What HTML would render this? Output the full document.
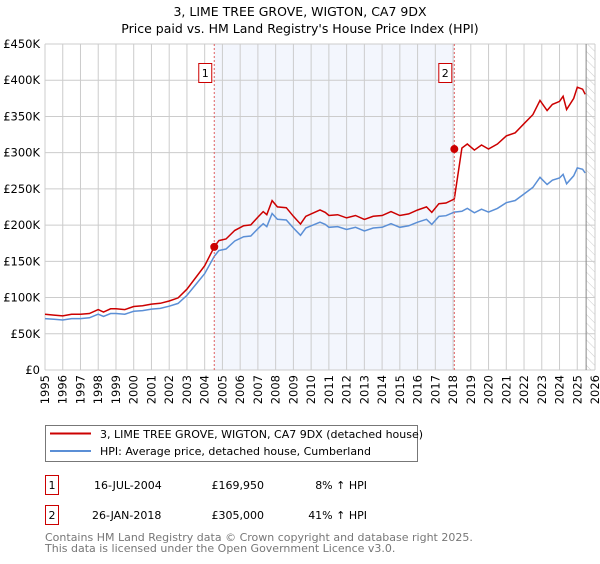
<!DOCTYPE html>
<html><head><meta charset="utf-8"><style>
body{margin:0;background:#fff;font-family:"DejaVu Sans","Liberation Sans",sans-serif;}
svg text{font-family:"DejaVu Sans","Liberation Sans",sans-serif;}
</style></head><body>
<svg id="chart" width="600" height="560" xmlns="http://www.w3.org/2000/svg">
<defs><pattern id="hatch" width="6" height="6" patternUnits="userSpaceOnUse" patternTransform="rotate(-45)"><line x1="0" y1="0" x2="0" y2="6" stroke="#ccc" stroke-width="1"/></pattern></defs>
<text x="300" y="16" text-anchor="middle" font-size="12.5">3, LIME TREE GROVE, WIGTON, CA7 9DX</text>
<text x="300" y="33" text-anchor="middle" font-size="12.5">Price paid vs. HM Land Registry's House Price Index (HPI)</text>
<g id="plot"></g>
<g>
<rect x="45.5" y="425.5" width="372" height="36" fill="#fff" stroke="#777"/>
<line x1="50" y1="433.5" x2="91" y2="433.5" stroke="#cc0000" stroke-width="2"/>
<text x="100" y="438" font-size="11">3, LIME TREE GROVE, WIGTON, CA7 9DX (detached house)</text>
<line x1="50" y1="451" x2="91" y2="451" stroke="#5b8fd6" stroke-width="2"/>
<text x="100" y="455" font-size="11">HPI: Average price, detached house, Cumberland</text>
</g>
<g font-size="11">
<rect x="45.5" y="475.5" width="13" height="19" fill="#fff" stroke="#cc0000"/>
<text x="52" y="489" text-anchor="middle">1</text>
<text x="94" y="489">16-JUL-2004</text>
<text x="264" y="489" text-anchor="end">£169,950</text>
<text x="367" y="489" text-anchor="end">8% ↑ HPI</text>
<rect x="45.5" y="505.5" width="13" height="19" fill="#fff" stroke="#cc0000"/>
<text x="52" y="519" text-anchor="middle">2</text>
<text x="92" y="519">26-JAN-2018</text>
<text x="264" y="519" text-anchor="end">£305,000</text>
<text x="367" y="519" text-anchor="end">41% ↑ HPI</text>
</g>
<text x="45" y="541" font-size="11" fill="#777">Contains HM Land Registry data © Crown copyright and database right 2025.</text>
<text x="45" y="552" font-size="11" fill="#777">This data is licensed under the Open Government Licence v3.0.</text>
</svg>
<script>
const hpiYears=[1995.0,1995.5,1996.0,1996.5,1997.0,1997.5,1998.0,1998.3,1998.7,1999.0,1999.5,2000.0,2000.5,2001.0,2001.5,2002.0,2002.5,2003.0,2003.5,2004.0,2004.54,2004.8,2005.2,2005.7,2006.2,2006.6,2007.0,2007.3,2007.5,2007.8,2008.1,2008.6,2009.0,2009.4,2009.7,2010.0,2010.5,2010.8,2011.0,2011.5,2012.0,2012.5,2013.0,2013.5,2014.0,2014.5,2015.0,2015.5,2016.0,2016.5,2016.8,2017.2,2017.6,2018.07,2018.5,2018.8,2019.2,2019.6,2020.0,2020.5,2021.0,2021.5,2022.0,2022.5,2022.9,2023.3,2023.6,2024.0,2024.2,2024.4,2024.8,2025.0,2025.3,2025.45];
const hpiValues=[71,70,69,71,71,72,77,74,78,78,77,81,82,84,85,88,92,103,118,133,157,165,167,178,184,185,195,202,198,216,208,207,196,186,196,199,204,201,197,198,194,197,192,196,197,202,197,199,204,208,201,212,213,218,219,223,217,222,218,223,231,234,243,252,266,256,262,265,270,257,268,279,277,272];
const saleYears=[2004.54,2018.07];
const salePrices=[169950,305000];
const saleLabels=["1","2"];
const yTicks=[0,50000,100000,150000,200000,250000,300000,350000,400000,450000];
const yTickLabels=["£0","£50K","£100K","£150K","£200K","£250K","£300K","£350K","£400K","£450K"];
const xTicks=[1995,1996,1997,1998,1999,2000,2001,2002,2003,2004,2005,2006,2007,2008,2009,2010,2011,2012,2013,2014,2015,2016,2017,2018,2019,2020,2021,2022,2023,2024,2025,2026];

const X0=45,X1=595,Y0=370,Y1=44,xMin=1995,xMax=2026,yMax=450000;
const xs=v=>X0+(v-xMin)/(xMax-xMin)*(X1-X0);
const ys=v=>Y0-v/yMax*(Y0-Y1);
const NS="http://www.w3.org/2000/svg";
const g=document.getElementById('plot');
function mk(t,a,p){const e=document.createElementNS(NS,t);for(const k in a)e.setAttribute(k,a[k]);(p||g).appendChild(e);return e;}
function hpiAt(t){for(let i=1;i<hpiYears.length;i++){if(t<=hpiYears[i]){const f=(t-hpiYears[i-1])/(hpiYears[i]-hpiYears[i-1]);return (hpiValues[i-1]+f*(hpiValues[i]-hpiValues[i-1]))*1000;}}return hpiValues[hpiValues.length-1]*1000;}

let shade=mk('rect',{x:xs(saleYears[0]),y:Y1,width:xs(saleYears[1])-xs(saleYears[0]),height:Y0-Y1,fill:'#f3f6fd'});


let hatch=mk('rect',{x:xs(2025.5),y:Y1,width:X1-xs(2025.5),height:Y0-Y1,fill:'url(#hatch)'});


xTicks.forEach(t=>{const l=mk('line',{x1:xs(t),x2:xs(t),y1:Y1,y2:Y0,stroke:'#cccccc','stroke-width':1});


const tx=mk('text',{x:xs(t)+4,y:Y0+5,'text-anchor':'end','font-size':11.5,transform:`rotate(-90 ${xs(t)+4} ${Y0+5})`});tx.textContent=t;

});
yTicks.forEach((t,i)=>{const l=mk('line',{x1:X0,x2:X1,y1:ys(t),y2:ys(t),stroke:'#cccccc','stroke-width':1});


const tx=mk('text',{x:X0-5,y:ys(t)+4,'text-anchor':'end','font-size':11.5});tx.textContent=yTickLabels[i];

});
mk('line',{x1:xs(2025.5),x2:xs(2025.5),y1:Y1,y2:Y0,stroke:'#888'});

let hp=hpiYears.map((t,i)=>`${xs(t).toFixed(1)},${ys(hpiValues[i]*1000).toFixed(1)}`).join(' ');
let hl=mk('polyline',{points:hp,fill:'none',stroke:'#5b8fd6','stroke-width':1.5});


let factors=saleYears.map((s,i)=>salePrices[i]/hpiAt(s));
let pts=[];
hpiYears.forEach((t,i)=>{
  if(t>saleYears[1]&&(i==0||hpiYears[i-1]<saleYears[1])){pts.push([saleYears[1],hpiAt(saleYears[1])*factors[0]]);pts.push([saleYears[1],salePrices[1]]);}
  const f=t<=saleYears[1]?factors[0]:factors[1];
  pts.push([t,hpiValues[i]*1000*f]);
});
let pl=mk('polyline',{points:pts.map(p=>`${xs(p[0]).toFixed(1)},${ys(p[1]).toFixed(1)}`).join(' '),fill:'none',stroke:'#cc0000','stroke-width':1.5});


saleYears.forEach((s,i)=>{
  const d=mk('line',{x1:xs(s),x2:xs(s),y1:Y1,y2:Y0,stroke:'#e06060','stroke-dasharray':'2,2','stroke-width':1});
  
  
  const c=mk('circle',{cx:xs(s),cy:ys(salePrices[i]),r:4,fill:'#cc0000'});
  
  
  const b=mk('rect',{x:xs(s)-15.5,y:63.5,width:13,height:19,fill:'#fff',stroke:'#cc0000'});
  
  
  const t=mk('text',{x:xs(s)-9,y:77,'text-anchor':'middle','font-size':11});t.textContent=saleLabels[i];
  
  
});
</script>
</body></html>
